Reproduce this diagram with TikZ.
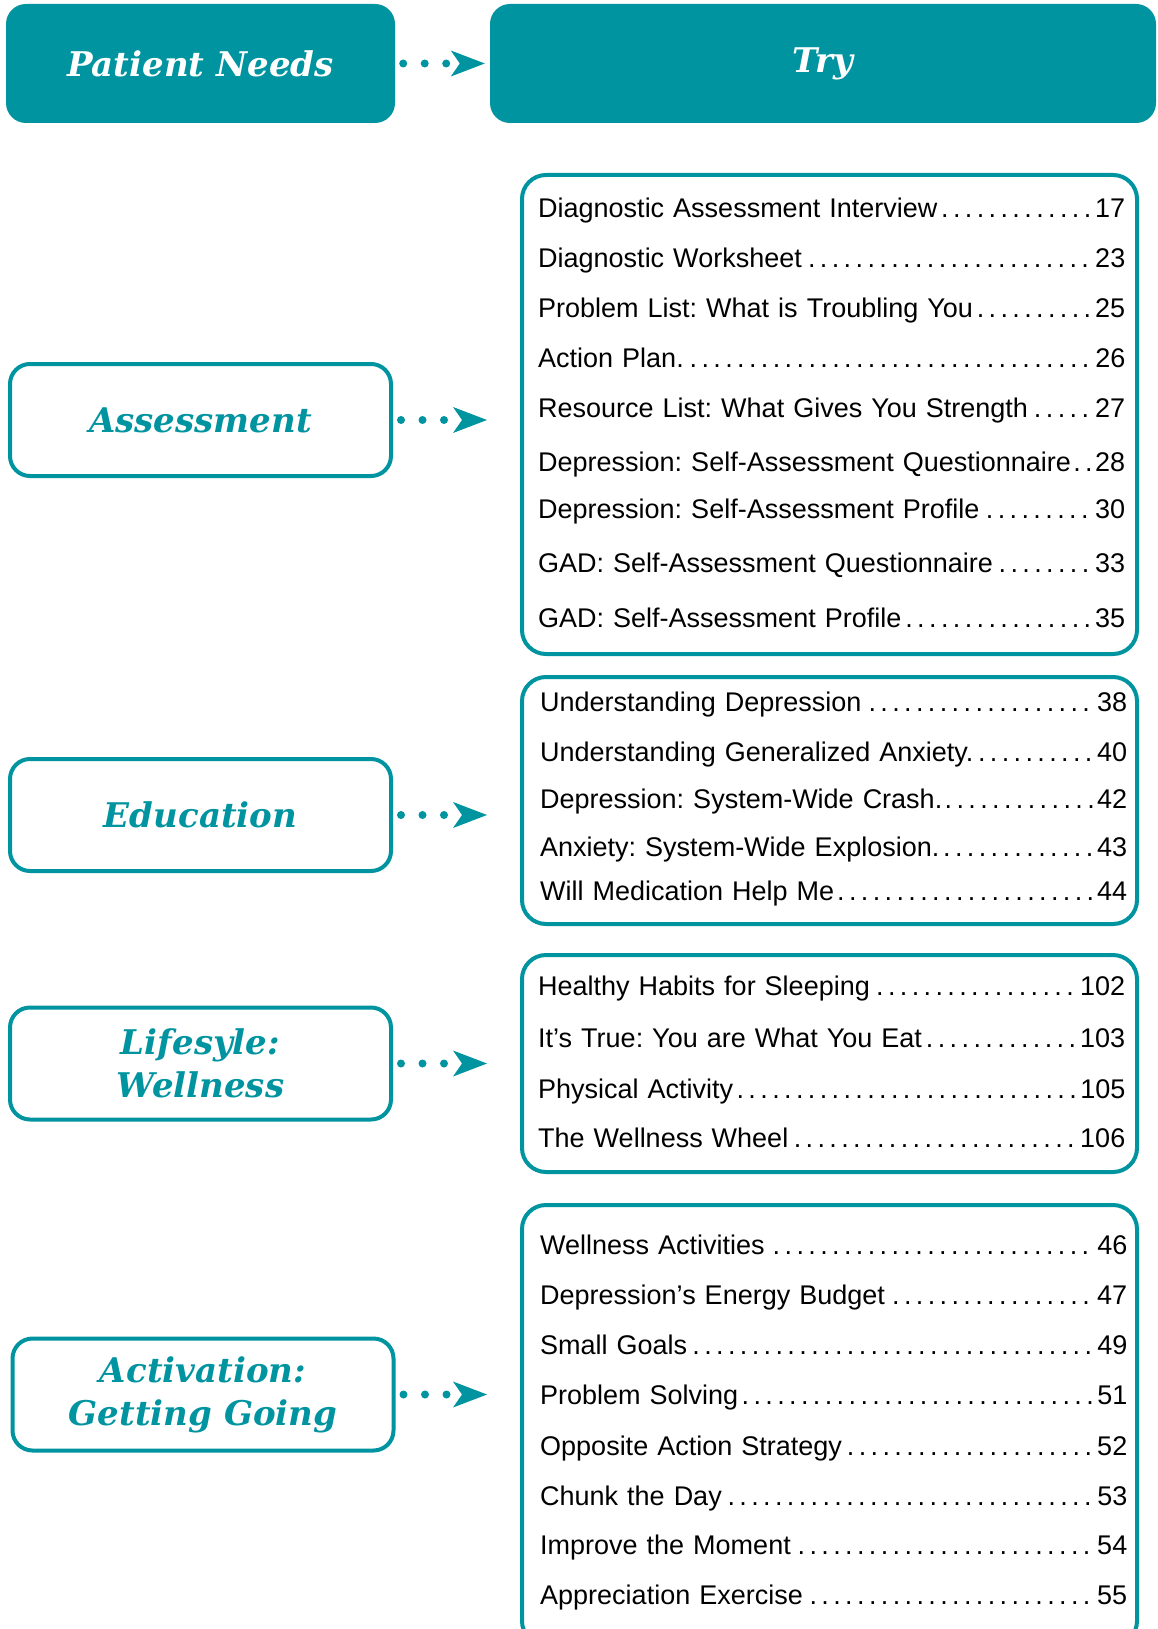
\documentclass[tikz,border=0pt]{standalone}
\usepackage{fontspec}
\setmainfont{Liberation Sans}
\newfontfamily\headfont{DejaVu Serif}
\usetikzlibrary{arrows.meta,calc}
\definecolor{needteal}{RGB}{0,147,160}
\tikzstyle{headbox}=[fill=needteal,rounded corners=20pt,text=white,inner sep=0pt,font=\headfont\bfseries\itshape\fontsize{34}{42}\selectfont]
\tikzstyle{needbox}=[draw=needteal,line width=4pt,rounded corners=20pt,text=needteal,align=center,inner sep=0pt,minimum width=381pt,minimum height=112pt,font=\headfont\bfseries\itshape\fontsize{34}{43}\selectfont]
\tikzstyle{listbox}=[draw=needteal,line width=4pt,rounded corners=24pt,inner sep=0pt,minimum width=615pt]
\tikzstyle{entry}=[anchor=base west,inner sep=0pt,text width=587pt,font=\fontsize{27}{32}\selectfont\frenchspacing]
\tikzstyle{dotline}=[draw=needteal,line width=8pt,line cap=round,dash pattern=on 0pt off 21.5pt,shorten <=8pt,shorten >=33pt,-{Stealth[length=34pt,width=26pt,inset=9pt,line width=0pt]}]

\begin{document}
\begin{tikzpicture}[x=1pt, y=-1pt]
  \def\listx{538}
  \useasboundingbox (0,0) rectangle (1158,1629);

  % headers
  \node[headbox, minimum width=389pt, minimum height=119pt] (needs) at (200.5,63.5) {Patient Needs};
  \node[headbox, minimum width=666pt, minimum height=119pt] (try) at (823,63.5) {Try};
  \draw[dotline, shorten >=5pt] (needs.east) -- (try.west);

  % needs
  \node[needbox] (assess) at (200.5,420) {Assessment};
  \node[needbox] (edu) at (200.5,815) {Education};
  \node[needbox] (life) at (200.5,1063.5) {Lifesyle:\\Wellness};
  \node[needbox] (activ) at (203,1394.5) {Activation:\\Getting Going};

  % lists
  \node[listbox, minimum height=479pt] (list1) at (829.5,414.5) {};
  \node[listbox, minimum height=247pt] (list2) at (829.5,800.5) {};
  \node[listbox, minimum height=217pt] (list3) at (829.5,1063.5) {};
  \node[listbox, minimum height=440pt] (list4) at (829.5,1425) {};

  % arrows
  \draw[dotline] (assess.east) -- (assess.east -| list1.west);
  \draw[dotline] (edu.east) -- (edu.east -| list2.west);
  \draw[dotline] (life.east) -- (life.east -| list3.west);
  \draw[dotline] (activ.east) -- (activ.east -| list4.west);

  % entries
  \foreach \y/\t/\p [count=\i] in {218/Diagnostic Assessment Interview/17,
      268/Diagnostic Worksheet/23, 317/Problem List: What is Troubling You/25,
      367/Action Plan./26, 417/Resource List: What Gives You Strength/27,
      471/Depression: Self-Assessment Questionnaire/28,
      518/Depression: Self-Assessment Profile/30,
      572/GAD: Self-Assessment Questionnaire/33, 627/GAD: Self-Assessment Profile/35}
    \node[entry] (a\i) at (\listx,\y) {\t\dotfill\p};
  \foreach \y/\t/\p [count=\i] in {711/Understanding Depression/38,
      761/Understanding Generalized Anxiety./40, 808/Depression: System-Wide Crash./42,
      856/Anxiety: System-Wide Explosion./43, 900/Will Medication Help Me/44}
    \node[entry] (e\i) at (\listx+2,\y) {\t\dotfill\p};
  \foreach \y/\t/\p [count=\i] in {995/Healthy Habits for Sleeping/102,
      1047/It’s True: You are What You Eat/103, 1098/Physical Activity/105,
      1147/The Wellness Wheel/106}
    \node[entry] (l\i) at (\listx,\y) {\t\dotfill\p};
  \foreach \y/\t/\p [count=\i] in {1254/Wellness Activities/46,
      1304/Depression’s Energy Budget/47, 1354/Small Goals/49,
      1404/Problem Solving/51, 1455/Opposite Action Strategy/52,
      1505/Chunk the Day/53, 1554/Improve the Moment/54, 1604/Appreciation Exercise/55}
    \node[entry] (g\i) at (\listx+2,\y) {\t\dotfill\p};
\end{tikzpicture}
\end{document}
